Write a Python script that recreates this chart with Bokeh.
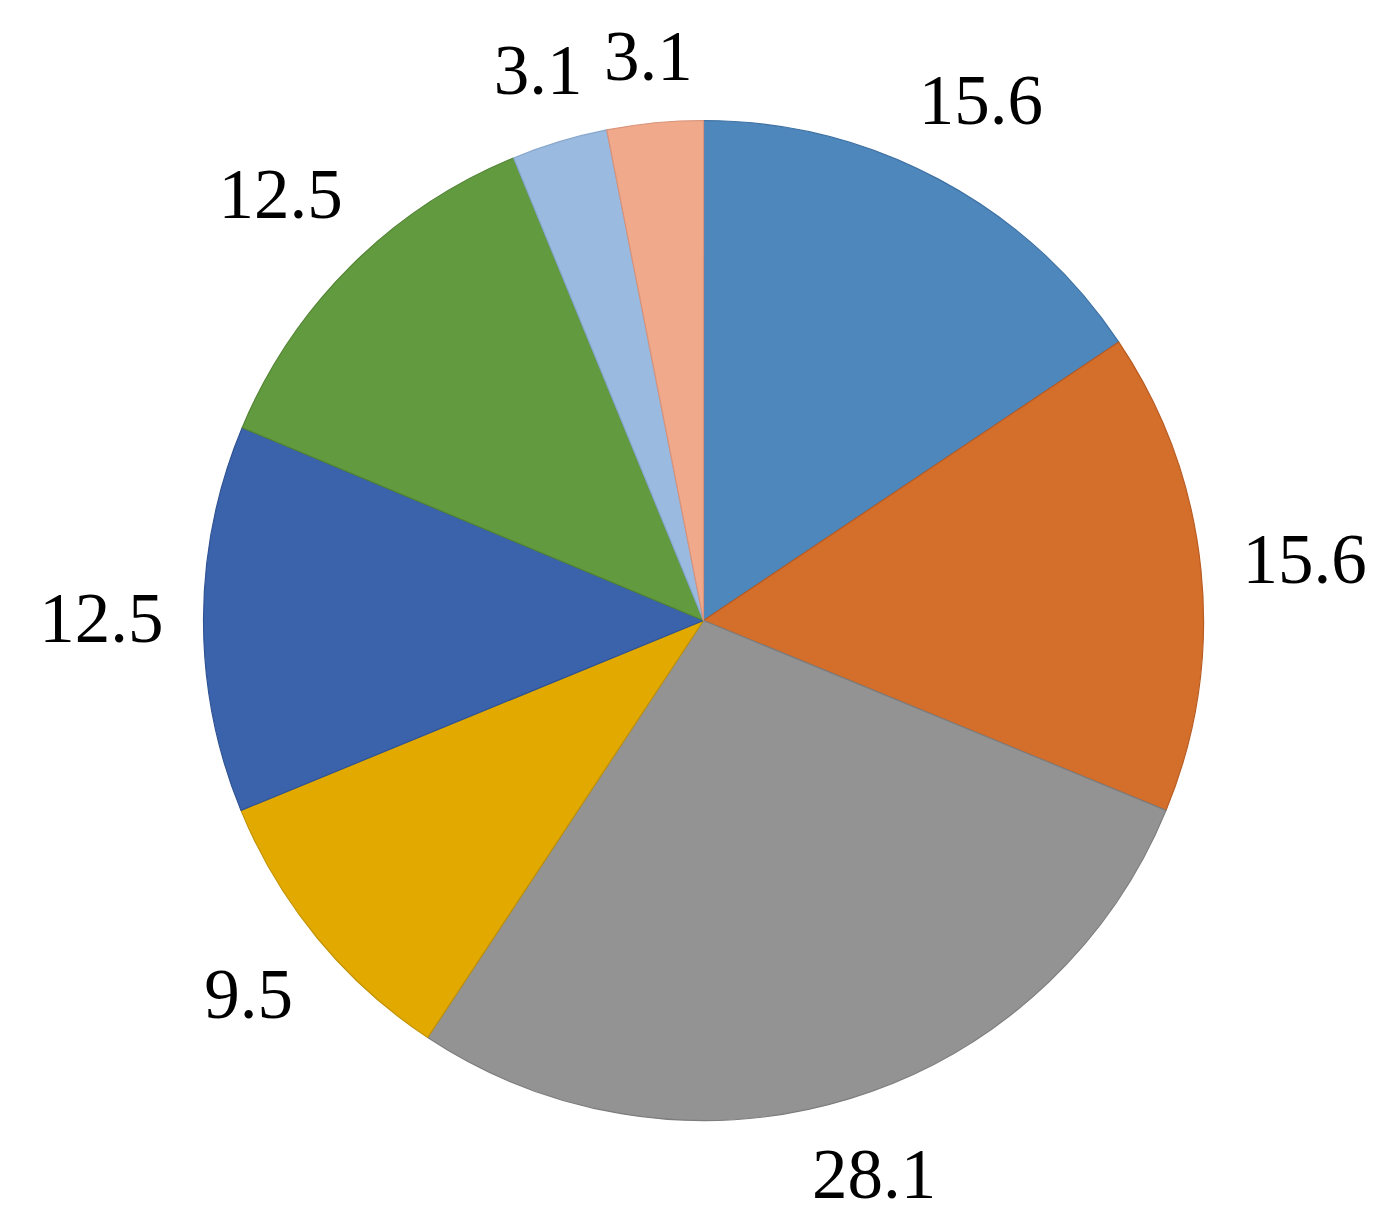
import math
from bokeh.plotting import figure
from bokeh.models import Range1d, ColumnDataSource
from bokeh.core.properties import value
from bokeh.embed import file_html
from bokeh.resources import INLINE

values = [15.6, 15.6, 28.1, 9.5, 12.5, 12.5, 3.1, 3.1]
labels = ["15.6", "15.6", "28.1", "9.5", "12.5", "12.5", "3.1", "3.1"]
colors = ["#4E87BC", "#D46E2B", "#939393", "#E2AA00", "#3B63AB", "#629A3F", "#9BBAE0", "#F1A98B"]
edges = ["#3F72A3", "#B85C22", "#7D7D7D", "#C29200", "#2F5394", "#528434", "#86A6CC", "#D9937A"]

W, H = 1400, 1220
scale = 500.0          # pixels per data unit (pie radius = 1)
cx, cy = 703.0, 620.0  # pie centre in pixels
font_px = 71
label_gap = 1.08       # anchor radius for labels (data units)

def text_half_extent(s):
    w = sum(0.25 if ch == "." else 0.5 for ch in s) * font_px / 2.0
    h = 0.32 * font_px
    return w / scale, h / scale

total = sum(values)
starts, ends, lx, ly = [], [], [], []
cum = 0.0
for v, lab in zip(values, labels):
    a0 = math.pi / 2 - 2 * math.pi * cum / total
    cum += v
    a1 = math.pi / 2 - 2 * math.pi * cum / total
    starts.append(a1)
    ends.append(a0)
    mid = (a0 + a1) / 2
    ux, uy = math.cos(mid), math.sin(mid)
    hw, hh = text_half_extent(lab)
    ext = abs(hw * ux) + abs(hh * uy)
    d = label_gap + ext
    lx.append(d * ux)
    ly.append(d * uy)

src = ColumnDataSource(dict(start=starts, end=ends, color=colors, edge=edges))
lsrc = ColumnDataSource(dict(x=lx, y=ly, text=labels))

p = figure(width=W, height=H, output_backend="svg", toolbar_location=None,
           x_range=Range1d(-cx / scale, (W - cx) / scale),
           y_range=Range1d(-(H - cy) / scale, cy / scale),
           min_border=0)
p.axis.visible = False
p.grid.visible = False
p.outline_line_color = None
p.background_fill_color = "white"

p.wedge(x=0, y=0, radius=1.0, start_angle="start", end_angle="end",
        fill_color="color", line_color="edge", line_width=1.2, source=src)

p.text(x="x", y="y", text="text", source=lsrc, text_align="center",
       text_baseline="middle", text_font=value("Liberation Serif"),
       text_font_size=f"{font_px}px", text_color="black")

open("out.html", "w").write(file_html(p, INLINE))
